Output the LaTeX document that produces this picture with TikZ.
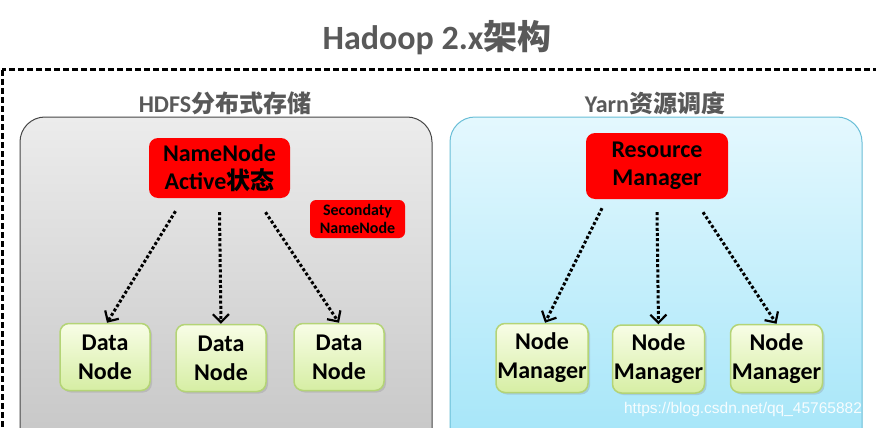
\documentclass[tikz,border=0pt]{standalone}
\usepackage{fontspec}
\setmainfont{Carlito}
\newfontfamily\cjk{Noto Sans CJK SC}
\newfontfamily\wmfont{Liberation Sans}
\usetikzlibrary{arrows.meta,shadows,positioning}

\definecolor{titlegray}{RGB}{89,89,89}
\definecolor{hdfsline}{RGB}{70,70,70}
\definecolor{hdfstop}{RGB}{236,236,236}
\definecolor{hdfsbot}{RGB}{196,196,196}
\definecolor{yarnline}{RGB}{105,190,215}
\definecolor{yarntop}{RGB}{228,248,254}
\definecolor{yarnbot}{RGB}{160,228,248}
\definecolor{workline}{RGB}{180,212,118}
\definecolor{worktop}{RGB}{248,253,230}
\definecolor{workbot}{RGB}{214,238,164}

\tikzset{
	heading/.style={text=titlegray, font=\fontsize{24}{28}\selectfont\bfseries},
	panel/.style={rounded corners=25pt, line width=1pt},
	master/.style={fill=red, rounded corners=9pt, align=center, inner sep=0pt,
		font=\fontsize{24}{28}\selectfont\bfseries},
	worker/.style={draw=workline, line width=1.5pt, rounded corners=9pt,
		top color=worktop, bottom color=workbot, align=center, inner sep=0pt,
		minimum width=90pt, minimum height=67pt,
		drop shadow={opacity=0.25, shadow xshift=2pt, shadow yshift=-2pt},
		font=\fontsize{24}{29}\selectfont\bfseries},
	dotarrow/.style={line width=3pt, dash pattern=on 3pt off 2.2pt,
		-{Straight Barb[length=8pt,width=16pt,line width=2.2pt]}}
}

\begin{document}
\begin{tikzpicture}[x=1pt,y=-1pt]
	\useasboundingbox (0,0) rectangle (876,428);
	\clip (0,0) rectangle (876,428);
	\fill[white] (0,0) rectangle (876,428);

	\node[text=titlegray, font=\fontsize{34}{38}\selectfont\bfseries] (title) at (437,38) {Hadoop 2.x{\cjk 架构}};
	\draw[line width=3pt, dash pattern=on 6pt off 3pt] (2,70) rectangle (900,470);

	% HDFS
	\node[heading] (hdfslabel) at (225,103) {HDFS{\cjk 分布式存储}};
	\draw[panel, draw=hdfsline, top color=hdfstop, bottom color=hdfsbot] (20,117) rectangle (432,470);

	\node[master, minimum width=141pt, minimum height=60pt] (nn) at (219.5,168) {NameNode\\Active{\cjk 状态}};
	\node[master, rounded corners=6pt, minimum width=95pt, minimum height=38pt,
		font=\fontsize{16}{18}\selectfont\bfseries] (snn) at (357.5,219) {Secondaty\\NameNode};

	\node[worker] (dn1) at (105,357) {Data\\Node};
	\node[worker] (dn2) at (221,358) {Data\\Node};
	\node[worker] (dn3) at (339,357) {Data\\Node};

	\draw[dotarrow] ([xshift=-44pt,yshift=-13pt]nn.south) -- ([xshift=2pt]dn1.north);
	\draw[dotarrow] ([yshift=-14pt]nn.south) -- (dn2.north);
	\draw[dotarrow] ([xshift=46pt,yshift=-14pt]nn.south) -- (dn3.north);

	% Yarn
	\node[heading] (yarnlabel) at (655,103) {Yarn{\cjk 资源调度}};
	\draw[panel, draw=yarnline, top color=yarntop, bottom color=yarnbot] (450,117) rectangle (862,470);

	\node[master, minimum width=142pt, minimum height=66pt] (rm) at (657,166) {Resource\\Manager};

	\node[worker, minimum width=92pt, minimum height=69pt] (nm1) at (542,358) {Node\\Manager};
	\node[worker, minimum width=92pt, minimum height=68pt] (nm2) at (658.5,359) {Node\\Manager};
	\node[worker, minimum width=92pt, minimum height=68pt] (nm3) at (776.5,358.5) {Node\\Manager};

	\draw[dotarrow] ([xshift=-55pt,yshift=-9pt]rm.south) -- ([xshift=3pt]nm1.north);
	\draw[dotarrow] ([yshift=-13pt]rm.south) -- (nm2.north);
	\draw[dotarrow] ([xshift=46pt,yshift=-13pt]rm.south) -- (nm3.north);

	\node[text=white, opacity=0.9, font=\wmfont\fontsize{15.5}{17}\selectfont] (mark) at (743,409) {https://blog.csdn.net/qq\_45765882};
\end{tikzpicture}
\end{document}
